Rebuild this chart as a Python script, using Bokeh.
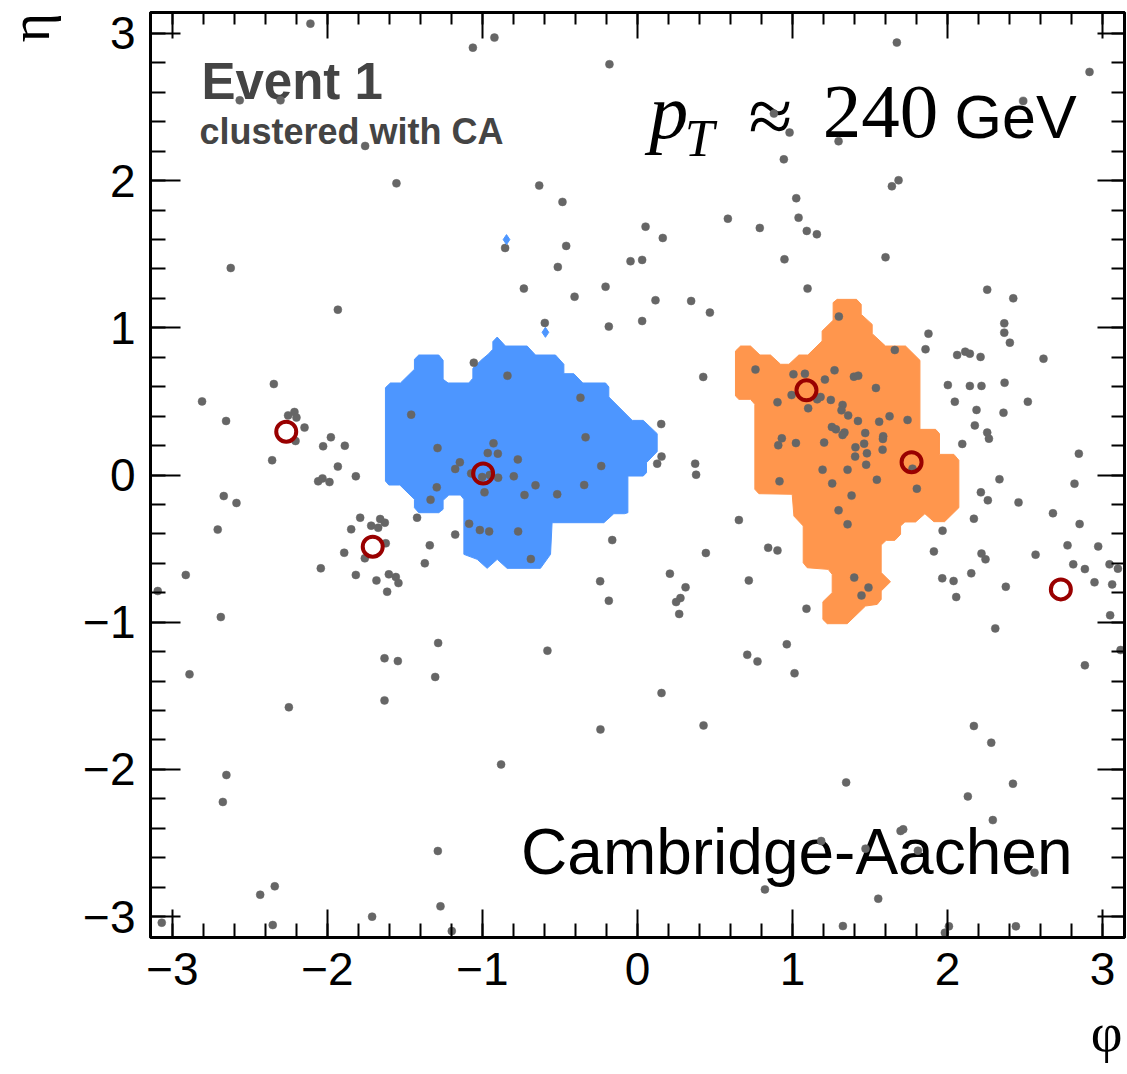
from math import pi

from bokeh.plotting import figure
from bokeh.models import Range1d, LinearAxis, FixedTicker, Label
from bokeh.core.properties import value
from bokeh.embed import file_html
from bokeh.resources import INLINE

# ---------------------------------------------------------------- data
# final-state particles (phi, eta)
particle_phi = [
    -2.110, -0.923, -1.062, -0.181, -2.566, -2.303, -1.757, -1.555, -0.634, -0.484,
    -0.854, -0.460, -0.514, -0.045, -2.624, -0.733, -0.406, -0.206, -1.933, -0.598,
    -0.185, -1.056, -0.839, -2.346, -2.809, -2.654, -0.368, -1.460, -2.213, -2.254,
    -2.200, -2.206, -2.148, -0.335, -1.978, -2.028, -1.888, -2.357, -1.290, -0.929,
    -0.966, -0.901, -0.772, -1.146, -1.176, -0.234, -1.933, -1.817,
    -1.073, -1.002, -0.953, -0.899, -0.798, -0.987, -0.729, -0.658, -0.518, -0.344,
    -1.295, -1.335, -1.422, -1.086, -1.017, -0.957, -0.770, -0.688, -1.176, -1.340,
    -1.372, -0.163, 0.153, 0.155, 0.127, 0.209,
    -2.060, -2.032, -1.987, -2.669, -2.587, -2.708, -2.914, -3.095, -2.688, -1.789,
    -1.847, -1.718, -1.660, -1.630, -1.673, -1.624, -1.759, -1.892, -2.043, -1.817,
    -1.684, -1.604, -1.559, -1.542, -1.615,
    -1.286, -1.632, -1.546, -2.890, -1.305, -1.632, -2.249, -0.581, -0.241, -0.185,
    -0.239, -0.880, -2.652, -2.675, -1.288, -2.434, -2.340, -1.271, -1.712, -2.353,
    -3.069, -1.198,
    1.673, 2.916, 2.488, 0.880, 0.981, 1.297, 0.944, 1.684, 1.641, 1.024,
    0.583, 1.039, 0.789, 1.092, 1.157, 0.052, 0.163, 0.030, 0.948, 1.600,
    1.097, 0.116, 0.346, 0.467, 0.030, 2.256, 2.424, 2.366, 2.366, 2.402,
    1.877, 1.858, 2.062, 2.114, 2.144, 2.213, 2.619, 0.424, 2.002, 2.144,
    2.219, 2.368, 2.047, 2.518, 2.187, 2.361, 2.176, 2.256, 2.267, 2.095,
    2.847, 0.372, 0.378,
    1.299, 1.660, 0.761, 1.006, 1.080, 1.271, 1.396, 1.424, 1.209, 1.538,
    0.994, 1.159, 1.181, 1.247, 0.903, 1.101, 1.323, 1.316, 1.359, 1.422,
    1.559, 1.626, 1.742, 1.254, 1.280, 1.335, 1.323, 1.469, 1.585, 1.583,
    0.931, 0.908, 1.022, 1.204, 1.462, 1.406, 1.480, 1.581, 1.404, 1.475,
    1.774, 1.194, 1.355, 0.916, 1.544, 1.256, 1.802, 1.381, 1.297, 1.355,
    1.398, 1.490, 1.445, 1.090,
    0.654, 0.843, 0.903, 0.718, 0.441, 0.310, 0.277, 0.249, 0.269, 0.963,
    0.708, 0.774, 1.013, 0.155, 0.426, 1.346, 2.170, 2.282, 2.422, 2.131,
    2.292, 1.697, 1.714, 1.185, 1.471, 1.809, 2.561, 0.822, 1.553, 1.325,
    2.009, 1.983, 2.441,
    2.335, 2.819, 2.215, 2.260, 2.458, 2.680, 2.170, 2.852, 1.968, 1.912,
    2.774, 2.972, 2.568, 2.219, 2.245, 2.811, 2.886, 3.045, 3.099, 2.153,
    1.966, 2.039, 2.376, 2.948, 3.062, 2.056, 3.049, 2.308, 3.116, 2.886,
]
particle_eta = [
    3.066, 2.971, 2.903, 2.790, 2.545, 2.545, 2.235, 1.981, 1.966, 1.855,
    1.542, 1.556, 1.413, 1.452, 1.406, 1.266, 1.211, 1.279, 1.123, 1.033,
    1.008, 0.763, 0.675, 0.618, 0.500, 0.367, 0.525, 0.410, 0.428, 0.405,
    0.390, 0.231, 0.322, 0.256, 0.256, 0.195, 0.199, 0.100, 0.183, 0.215,
    0.149, 0.145, 0.106, 0.086, 0.041, 0.061, 0.057, -0.009,
    0.011, -0.014, 0.000, -0.018, -0.009, -0.118, -0.136, -0.070, -0.131, -0.068,
    -0.084, -0.168, -0.290, -0.331, -0.374, -0.383, -0.383, -0.571, -0.405, -0.478,
    -0.600, -0.442, 0.346, 0.125, 0.077, -0.670,
    -0.043, -0.023, -0.048, -0.143, -0.190, -0.371, -0.679, -0.788, -0.965, -0.290,
    -0.369, -0.344, -0.299, -0.324, -0.358, -0.464, -0.566, -0.528, -0.634, -0.679,
    -0.716, -0.675, -0.693, -0.734, -0.793,
    -1.141, -1.245, -1.264, -1.354, -1.372, -1.531, -1.578, -1.193, -0.722, -0.854,
    -1.728, -1.966, -2.038, -2.221, -2.554, -2.851, -2.794, -2.930, -3.000, -3.057,
    -3.041, -3.098,
    2.937, 2.738, 2.541, 2.455, 2.326, 2.267, 2.144, 2.002, 1.961, 1.880,
    1.741, 1.748, 1.678, 1.658, 1.635, 1.687, 1.610, 1.461, 1.465, 1.479,
    1.266, 1.187, 1.182, 1.103, 1.046, 1.259, 1.200, 1.030, 0.967, 0.899,
    0.960, 0.854, 0.815, 0.838, 0.824, 0.802, 0.790, 0.666, 0.611, 0.605,
    0.605, 0.627, 0.498, 0.498, 0.442, 0.423, 0.337, 0.288, 0.247, 0.211,
    0.145, 0.077, 0.002,
    1.076, 0.849, 0.716, 0.684, 0.688, 0.711, 0.668, 0.675, 0.648, 0.591,
    0.543, 0.514, 0.530, 0.510, 0.494, 0.453, 0.476, 0.439, 0.405, 0.367,
    0.362, 0.399, 0.374, 0.326, 0.310, 0.288, 0.272, 0.285, 0.263, 0.245,
    0.249, 0.202, 0.217, 0.220, 0.213, 0.188, 0.147, 0.172, 0.125, 0.070,
    0.043, 0.036, 0.036, -0.043, -0.032, -0.057, -0.093, -0.140, -0.240, -0.335,
    -0.697, -0.765, -0.818, -0.908,
    -0.306, -0.494, -0.512, -0.716, -0.530, -0.763, -0.836, -0.863, -0.944, -1.150,
    -1.221, -1.266, -1.347, -1.481, -1.701, -2.088, -1.705, -1.818, -2.097, -2.183,
    -2.344, -2.418, -2.407, -2.486, -2.538, -2.552, -2.701, -2.815, -2.878, -3.064,
    -3.066, -3.109, -3.066,
    -0.029, -0.059, -0.118, -0.172, -0.186, -0.260, -0.297, -0.333, -0.378, -0.519,
    -0.478, -0.485, -0.541, -0.534, -0.573, -0.607, -0.639, -0.607, -0.636, -0.668,
    -0.702, -0.720, -0.759, -0.729, -0.743, -0.829, -0.953, -1.042, -1.189, -1.293,
]

# jet axes (phi, eta)
jet_phi = [-2.266, -1.708, -0.996, 1.090, 1.768, 2.731]
jet_eta = [0.294, -0.487, 0.010, 0.575, 0.087, -0.777]

# isolated ghosts assigned to the first jet
ghost_phi = [-0.845, -0.594]
ghost_eta = [1.599, 0.969]

# catchment area of jet 1 (blue)
area1_phi = [
    -0.933, -0.905, -0.852, -0.712, -0.658, -0.529, -0.475, -0.475, -0.411, -0.353,
    -0.206, -0.185, -0.185, -0.034, 0.037, 0.127, 0.127, 0.058, 0.058, 0.037,
    -0.062, -0.062, -0.084, -0.153, -0.217, -0.551, -0.561, -0.626, -0.841, -0.905,
    -0.970, -1.034, -1.120, -1.120, -1.142, -1.217, -1.254, -1.254, -1.282, -1.411,
    -1.439, -1.439, -1.533, -1.604, -1.626, -1.626, -1.594, -1.529, -1.439, -1.439,
    -1.411, -1.282, -1.254, -1.254, -1.222, -1.088, -1.062, -1.062, -1.002, -0.963,
    -0.933,
]
area1_eta = [
    0.906, 0.937, 0.876, 0.876, 0.815, 0.815, 0.752, 0.688, 0.688, 0.625,
    0.625, 0.598, 0.530, 0.371, 0.371, 0.281, 0.159, 0.084, 0.016, -0.007,
    -0.007, -0.256, -0.263, -0.263, -0.324, -0.324, -0.539, -0.634, -0.634, -0.573,
    -0.634, -0.573, -0.539, -0.165, -0.136, -0.136, -0.172, -0.233, -0.256, -0.256,
    -0.222, -0.165, -0.068, -0.068, -0.041, 0.593, 0.625, 0.625, 0.718, 0.786,
    0.815, 0.815, 0.779, 0.650, 0.625, 0.625, 0.657, 0.725, 0.786, 0.820,
    0.854,
]

# catchment area of jet 2 (orange)
area2_phi = [
    1.262, 1.288, 1.413, 1.443, 1.443, 1.514, 1.514, 1.600, 1.729, 1.822,
    1.822, 1.923, 1.948, 1.948, 2.041, 2.073, 2.073, 1.981, 1.912, 1.854,
    1.794, 1.725, 1.697, 1.697, 1.660, 1.604, 1.572, 1.572, 1.632, 1.572,
    1.572, 1.546, 1.471, 1.353, 1.224, 1.196, 1.196, 1.256, 1.256, 1.230,
    1.095, 1.069, 1.069, 1.009, 0.998, 0.783, 0.757, 0.757, 0.729, 0.654,
    0.632, 0.632, 0.665, 0.729, 0.790, 0.858, 0.923, 0.977, 1.041, 1.099,
    1.191, 1.191, 1.262,
]
area2_eta = [
    1.171, 1.193, 1.193, 1.159, 1.091, 1.023, 0.960, 0.876, 0.876, 0.779,
    0.310, 0.310, 0.281, 0.140, 0.140, 0.100, -0.222, -0.317, -0.317, -0.263,
    -0.319, -0.319, -0.346, -0.403, -0.444, -0.444, -0.476, -0.663, -0.725, -0.788,
    -0.845, -0.879, -0.890, -1.010, -1.010, -0.981, -0.861, -0.799, -0.675, -0.641,
    -0.630, -0.596, -0.346, -0.279, -0.131, -0.127, -0.097, 0.480, 0.514, 0.514,
    0.537, 0.842, 0.876, 0.876, 0.815, 0.815, 0.752, 0.752, 0.815, 0.815,
    0.910, 0.978, 1.051,
]

major_ticks = [-3, -2, -1, 0, 1, 2, 3]
tick_labels = {t: ("\u2212%d" % -t if t < 0 else "%d" % t) for t in major_ticks}
minor_ticks = [round(-3.0 + 0.2 * i, 1) for i in range(31)]

SANS = "Liberation Sans"
SERIF = "Liberation Serif"

# ---------------------------------------------------------------- figure
p = figure(
    width=1127, height=1074,
    x_range=Range1d(-pi, pi), y_range=Range1d(-pi, pi),
    output_backend="svg", toolbar_location=None,
    x_axis_location=None, y_axis_location=None,
    min_border_left=150, min_border_right=3,
    min_border_top=12, min_border_bottom=137,
)
p.grid.visible = False
p.background_fill_color = "white"
p.border_fill_color = "white"
p.outline_line_color = "black"
p.outline_line_width = 3


def frame_axis(tick_major, tick_minor, labelled, standoff=0):
    ax = LinearAxis(ticker=FixedTicker(ticks=major_ticks, minor_ticks=minor_ticks))
    ax.axis_line_width = 3
    ax.axis_line_color = "black"
    ax.major_tick_in = tick_major
    ax.major_tick_out = 0
    ax.minor_tick_in = tick_minor
    ax.minor_tick_out = 0
    ax.major_tick_line_width = 2
    ax.minor_tick_line_width = 2
    if labelled:
        ax.major_label_overrides = tick_labels
        ax.major_label_text_font = SANS
        ax.major_label_text_font_size = "46px"
        ax.major_label_text_color = "black"
        ax.major_label_standoff = standoff
    else:
        ax.major_label_overrides = {t: "" for t in major_ticks}
        ax.major_label_text_font_size = "0px"
        ax.major_label_standoff = 0
    return ax


p.add_layout(frame_axis(28, 14, True, standoff=15), "below")
p.add_layout(frame_axis(30, 15, True, standoff=15), "left")
p.add_layout(frame_axis(26, 12, False), "above")
p.add_layout(frame_axis(27, 13, False), "right")

# axis titles, at the far end of each axis (side panels are not clipped)
p.add_layout(Label(x=3.128, y=-3.784, text="\u03c6", text_align="right",
                   text_baseline="alphabetic", text_font=SERIF,
                   text_font_size="55px", text_color="black"), "below")
p.add_layout(Label(x=-3.917, y=3.139, text="\u03b7", angle=pi / 2,
                   text_align="right", text_baseline="alphabetic",
                   text_font=SERIF, text_font_size="56px",
                   text_color="black"), "left")

# jet areas
p.patch(area1_phi, area1_eta, fill_color="#4d96ff", line_color="#4d96ff", line_width=1)
p.patch(area2_phi, area2_eta, fill_color="#ff964d", line_color="#ff964d", line_width=1)

# annotations inside the frame
p.text(x=[-2.813], y=[2.673], text=["Event 1"], text_font=value(SANS),
       text_font_style="bold", text_font_size=value("51px"), text_color="#444444",
       text_align="left", text_baseline="alphabetic")
p.text(x=[-2.826], y=[2.330], text=["clustered with CA"], text_font=value(SANS),
       text_font_style="bold", text_font_size=value("36px"), text_color="#444444",
       text_align="left", text_baseline="alphabetic")
p.text(x=[0.075], y=[2.472], text=["p"], text_font=value(SERIF),
       text_font_style="italic", text_font_size=value("78px"), text_color="black",
       text_align="left", text_baseline="alphabetic")
p.text(x=[0.305], y=[2.292], text=["T"], text_font=value(SERIF),
       text_font_style="italic", text_font_size=value("53px"), text_color="black",
       text_align="left", text_baseline="alphabetic")
p.text(x=[0.716], y=[2.440], text=["\u2248"], text_font=value(SERIF),
       text_font_size=value("80px"), text_color="black",
       text_align="left", text_baseline="alphabetic")
p.text(x=[1.195], y=[2.469], text=["240"], text_font=value(SERIF),
       text_font_size=value("77px"), text_color="black",
       text_align="left", text_baseline="alphabetic")
p.text(x=[2.045], y=[2.430], text=["GeV"], text_font=value(SANS),
       text_font_size=value("61px"), text_color="black",
       text_align="left", text_baseline="alphabetic")
p.text(x=[2.806], y=[-2.560], text=["Cambridge-Aachen"], text_font=value(SANS),
       text_font_size=value("64px"), text_color="black",
       text_align="right", text_baseline="alphabetic")

# particles, ghosts and jet axes
p.scatter(particle_phi, particle_eta, size=8, marker="circle",
          fill_color="#666666", line_color="#666666", line_width=0.5)
p.scatter(ghost_phi, ghost_eta, size=10, marker="diamond",
          fill_color="#4d96ff", line_color="#4d96ff")
p.scatter(jet_phi, jet_eta, size=20, marker="circle", fill_color=None,
          line_color="#990000", line_width=4)

open("out.html", "w").write(file_html(p, INLINE))
